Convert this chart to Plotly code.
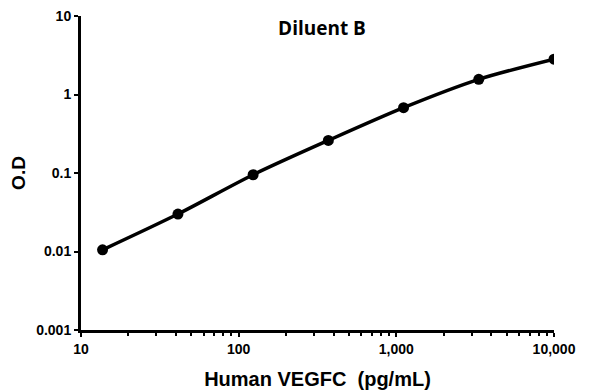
import plotly.graph_objects as go

conc = [13.7, 41.2, 123.5, 370.4, 1111.1, 3333.3, 10000]
od = [0.0105, 0.030, 0.095, 0.26, 0.68, 1.56, 2.82]

x_tickvals = [10, 100, 1000, 10000]
x_ticktext = ["10", "100", "1,000", "10,000"]
y_tickvals = [0.001, 0.01, 0.1, 1, 10]
y_ticktext = ["0.001", "0.01", "0.1", "1", "10"]

fig = go.Figure()
fig.add_trace(go.Scatter(
    x=conc, y=od, mode="lines+markers",
    line=dict(color="black", width=3.5, shape="spline", smoothing=0.8),
    marker=dict(color="black", size=11),
    showlegend=False,
))

tickfont = dict(family="Liberation Sans", size=14, color="black")
fig.update_layout(
    width=588, height=384,
    margin=dict(l=73, r=42, t=8, b=62, autoexpand=False),
    plot_bgcolor="white", paper_bgcolor="white",
    title=dict(text="<b>Diluent B</b>", x=0.534, xanchor="center", y=0.948, yanchor="middle",
               font=dict(family="Open Sans", size=19, color="black")),
)
fig.update_xaxes(
    type="log", range=[1, 4], showgrid=False, zeroline=False, automargin=False,
    showline=True, linecolor="black", linewidth=3,
    ticks="outside", ticklen=4, tickwidth=2, tickcolor="black",
    tickvals=x_tickvals, ticktext=[f"<b>{t}</b>" for t in x_ticktext],
    tickfont=tickfont, ticklabeloverflow="allow",
    minor=dict(ticks="outside", dtick="D1", ticklen=3, tickwidth=2, tickcolor="black", showgrid=False),
    title=dict(text="<b>Human VEGFC  (pg/mL)</b>", font=dict(family="Liberation Sans", size=20, color="black"), standoff=17),
)
fig.update_yaxes(
    type="log", range=[-3, 1], showgrid=False, zeroline=False, automargin=False,
    showline=True, linecolor="black", linewidth=3,
    ticks="outside", ticklen=4, tickwidth=2, tickcolor="black",
    tickvals=y_tickvals, ticktext=[f"<b>{t}</b>" for t in y_ticktext],
    tickfont=tickfont, ticklabeloverflow="allow",
    title=dict(text="<b>O.D</b>", font=dict(family="Liberation Sans", size=19, color="black"), standoff=6),
)

fig.write_html("out.html")
